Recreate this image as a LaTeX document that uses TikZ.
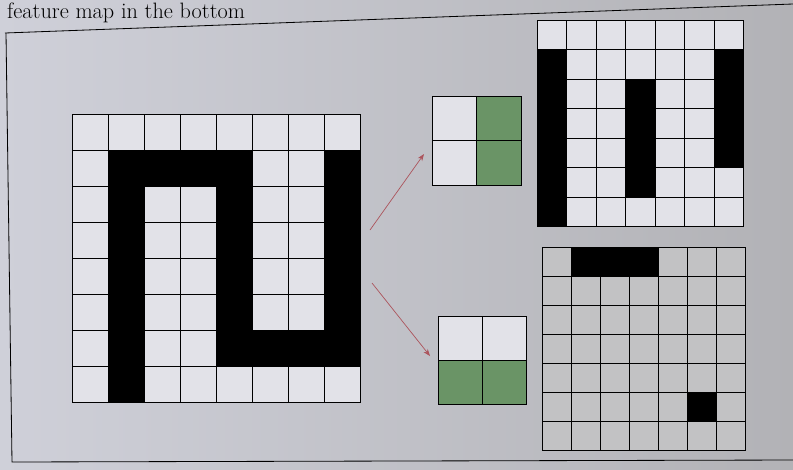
\documentclass[tikz,border=0pt]{standalone}
\usepackage{tikz}
\usetikzlibrary{arrows.meta}
\definecolor{pagegray}{RGB}{207,208,217}
\definecolor{pageshade}{RGB}{178,178,182}
\definecolor{cellgray}{RGB}{226,226,232}
\definecolor{darkcell}{RGB}{194,194,196}
\definecolor{filtergreen}{RGB}{106,148,102}
\definecolor{arrowred}{RGB}{172,84,92}

\begin{document}
\begin{tikzpicture}[
    x=0.03cm, y=-0.03cm,
    cell/.style={draw, line width=0.8pt, inner sep=0pt, minimum size=#1, fill=cellgray},
    feed/.style={draw=arrowred, line width=0.6pt, -{Stealth[length=6pt,width=4.5pt]}}
]
    \useasboundingbox (0,0) rectangle (793,469);
    \shade[left color=pagegray, right color=pageshade] (0,0) rectangle (793,469);

    % page text and frame
    \node[anchor=base west, inner sep=0pt, font=\fontsize{19}{22}\selectfont] (pagetext) at (7,18) {feature map in the bottom};
    \draw[line width=0.7pt] (5,33) -- (793,4);
    \draw[line width=0.7pt] (6,33) -- (12,462) -- (793,460);

    % input image, 8x8
    \foreach \r in {0,...,7}
      \foreach \c in {0,...,7}
        \node[cell=1.08cm] (in-\r-\c) at ({72.5+36*\c+18},{114+36*\r+18}) {};
    \foreach \r/\c in {1/1,1/2,1/3,1/4,1/7,2/1,2/4,2/7,3/1,3/4,3/7,4/1,4/4,4/7,
                       5/1,5/4,5/7,6/1,6/4,6/5,6/6,6/7,7/1}
      \fill (in-\r-\c.north west) rectangle (in-\r-\c.south east);

    % filters
    \foreach \r/\c/\f in {0/0/cellgray,0/1/filtergreen,1/0/cellgray,1/1/filtergreen}
      \node[cell=1.335cm, fill=\f] (fa-\r-\c) at ({432+44.5*\c+22.25},{96+44.5*\r+22.25}) {};
    \foreach \r/\c/\f in {0/0/cellgray,0/1/cellgray,1/0/filtergreen,1/1/filtergreen}
      \node[cell=1.32cm, fill=\f] (fb-\r-\c) at ({438+44*\c+22},{316+44*\r+22}) {};

    % arrows
    \coordinate (up-start) at (370,230);
    \coordinate (up-end) at (424,154);
    \coordinate (down-start) at (372,283);
    \coordinate (down-end) at (430,356);
    \draw[feed] (up-start) -- (up-end);
    \draw[feed] (down-start) -- (down-end);

    % feature maps, 7x7
    \foreach \r in {0,...,6}
      \foreach \c in {0,...,6}
        \node[cell=0.885cm] (outa-\r-\c) at ({537+29.5*\c+14.75},{20+29.5*\r+14.75}) {};
    \foreach \r/\c in {1/0,1/6,2/0,2/3,2/6,3/0,3/3,3/6,4/0,4/3,4/6,5/0,5/3,6/0}
      \fill (outa-\r-\c.north west) rectangle (outa-\r-\c.south east);

    \foreach \r in {0,...,6}
      \foreach \c in {0,...,6}
        \node[cell=0.87cm, fill=darkcell] (outb-\r-\c) at ({542+29*\c+14.5},{247.5+29*\r+14.5}) {};
    \foreach \r/\c in {0/1,0/2,0/3,5/5}
      \fill (outb-\r-\c.north west) rectangle (outb-\r-\c.south east);
\end{tikzpicture}
\end{document}
